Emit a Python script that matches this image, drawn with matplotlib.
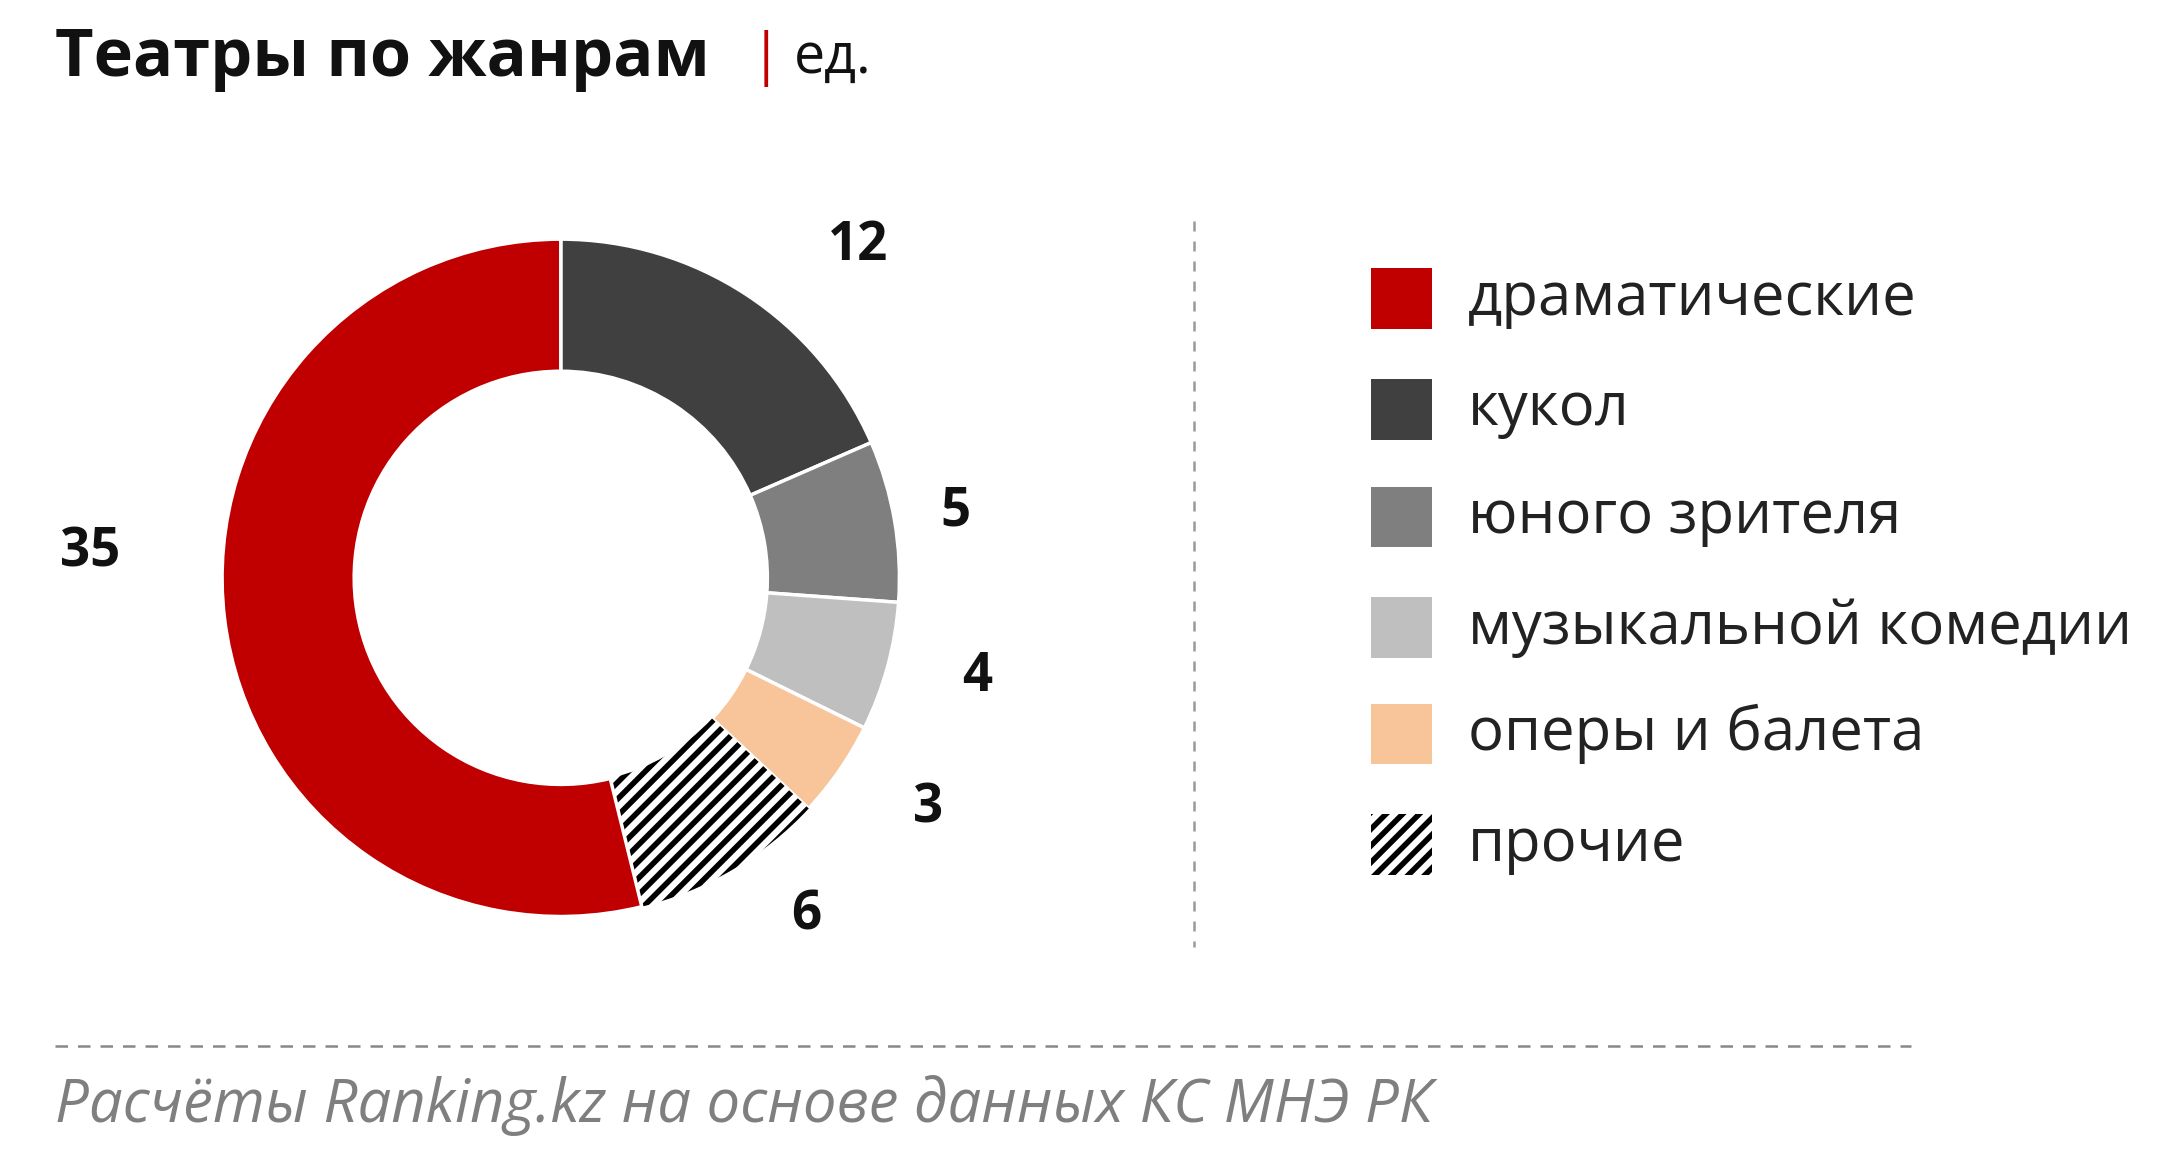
import matplotlib.pyplot as plt
from matplotlib.patches import Rectangle
from matplotlib.lines import Line2D

plt.rcParams['font.family'] = ['Open Sans', 'DejaVu Sans']
plt.rcParams['hatch.linewidth'] = 4

genres = ["драматические", "кукол", "юного зрителя", "музыкальной комедии", "оперы и балета", "прочие"]
counts = [35, 12, 5, 4, 3, 6]
colors = ["#c00000", "#404040", "#7f7f7f", "#bfbfbf", "#f8c49a", "white"]

# reference image measured at 1560x850, convert to figure fractions
W, H = 1560.0, 850.0
def fx(x): return x / W
def fy(y): return 1 - y / H

fig = plt.figure(figsize=(21.6, 11.75), dpi=100)

cx, cy, r = 405, 418, 245
rw = r / W
rh = r / H
ax = fig.add_axes([fx(cx) - rw, fy(cy) - rh, 2 * rw, 2 * rh])
order = [1, 2, 3, 4, 5, 0]
wedges, _ = ax.pie([counts[i] for i in order], colors=[colors[i] for i in order],
                   startangle=90, counterclock=False, radius=1,
                   wedgeprops=dict(width=0.39, edgecolor="white", linewidth=2.5))
hw = wedges[order.index(5)]
hw.set_hatch("//")
hw.set_edgecolor("black")
hw.set_linewidth(0)
ax.set_xlim(-1, 1)
ax.set_ylim(-1, 1)
ax.set_aspect("equal")
ax.axis("off")

lab_pos = {1: (620, 178), 2: (690, 370), 3: (706, 490), 4: (670, 585), 5: (582, 662), 0: (65, 400)}
for i, (x, y) in lab_pos.items():
    fig.text(fx(x), fy(y), str(counts[i]), fontsize=38, fontweight="bold",
             ha="center", va="center", color="#111111")

# legend
ys = [216, 296, 374, 454, 531, 611]
for i, y in enumerate(ys):
    sz = 44
    p = Rectangle((fx(990), fy(y + sz / 2)), sz / W, sz / H, transform=fig.transFigure,
                  facecolor=colors[i], edgecolor="black" if i == 5 else "none",
                  linewidth=0, hatch="//" if i == 5 else None)
    fig.add_artist(p)
    fig.text(fx(1060), fy(y), genres[i], fontsize=43, ha="left", va="center", color="#222222")

fig.add_artist(Line2D([fx(862), fx(862)], [fy(160), fy(685)], transform=fig.transFigure,
                      color="#999999", linestyle=(0, (4, 4)), linewidth=1.8))
fig.add_artist(Line2D([fx(40), fx(1380)], [fy(757), fy(757)], transform=fig.transFigure,
                      color="#888888", linestyle=(0, (5, 4)), linewidth=1.8))

fig.text(fx(40), fy(42), "Театры по жанрам", fontsize=48, fontweight="bold", ha="left", va="center", color="#111111")
fig.text(fx(542), fy(42), "|", fontsize=40, ha="left", va="center", color="#c00000")
fig.text(fx(573), fy(42), "ед.", fontsize=40, ha="left", va="center", color="#111111")
fig.text(fx(40), fy(800), "Расчёты Ranking.kz на основе данных КС МНЭ РК", fontsize=43,
         style="italic", ha="left", va="center", color="#7f7f7f")

fig.savefig("out.png", dpi=100)
